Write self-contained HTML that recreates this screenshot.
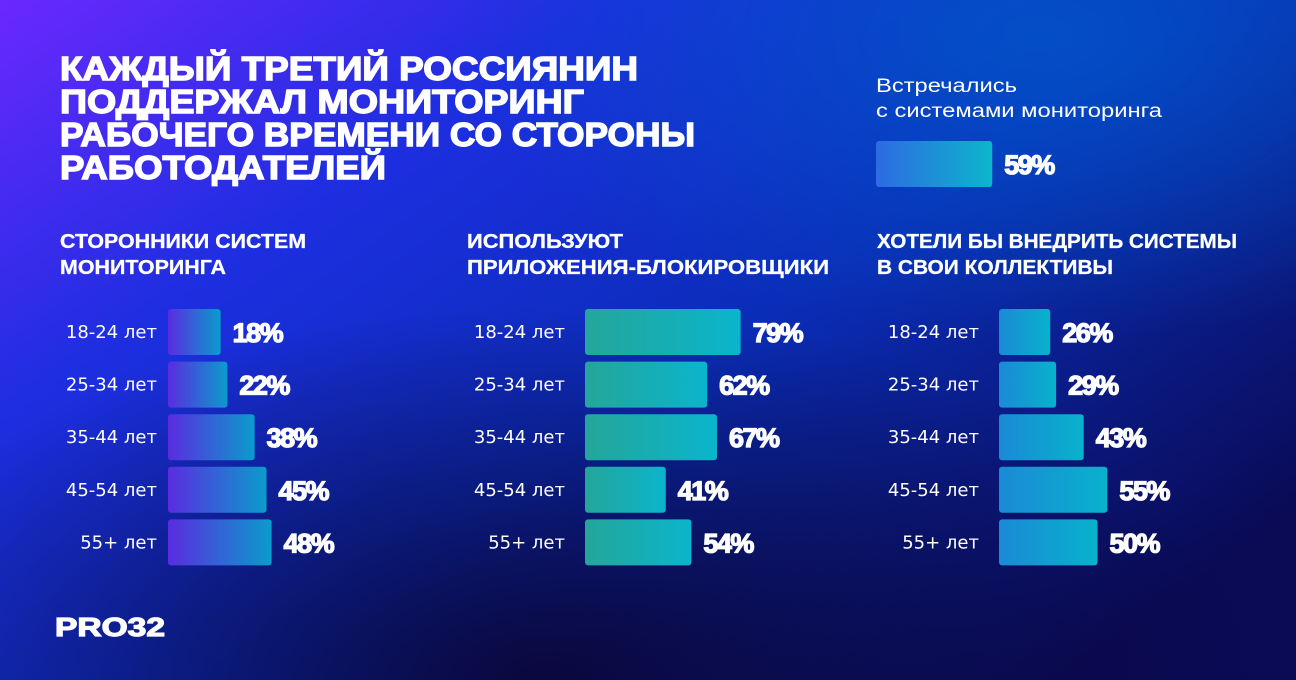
<!DOCTYPE html>
<html><head><meta charset="utf-8"><style>
html,body{margin:0;padding:0;width:1296px;height:680px;overflow:hidden;background:#0a1070}
svg{display:block}
text{font-family:"Liberation Sans","DejaVu Sans",sans-serif;fill:#fff}
.lab{font-family:"DejaVu Sans","Liberation Sans",sans-serif}
</style></head><body>
<svg id="chart" width="1296" height="680" viewBox="0 0 1296 680">
<defs>
<linearGradient id="bgA" x1="0" y1="0" x2="1" y2="0.75">
<stop offset="0" stop-color="#6a28ff"/><stop offset="0.3" stop-color="#1d2ee0"/><stop offset="0.6" stop-color="#0a2db8"/><stop offset="1" stop-color="#0a0a55"/>
</linearGradient>
<radialGradient id="bgB" cx="0.42" cy="1" r="0.55">
<stop offset="0" stop-color="#0a0638" stop-opacity="0.95"/><stop offset="1" stop-color="#0a0638" stop-opacity="0"/>
</radialGradient>
<radialGradient id="bgC" cx="0.8" cy="0.05" r="0.45">
<stop offset="0" stop-color="#0057c8" stop-opacity="0.8"/><stop offset="1" stop-color="#0057c8" stop-opacity="0"/>
</radialGradient>
<linearGradient id="g1" x1="0" x2="1"><stop offset="0" stop-color="#5a2ce0"/><stop offset="1" stop-color="#0a9ccc"/></linearGradient>
<linearGradient id="g2" x1="0" x2="1"><stop offset="0" stop-color="#24a69a"/><stop offset="1" stop-color="#0ab5cc"/></linearGradient>
<linearGradient id="g3" x1="0" x2="1"><stop offset="0" stop-color="#1a8ad6"/><stop offset="1" stop-color="#08b2cc"/></linearGradient>
<linearGradient id="g0" x1="0" x2="1"><stop offset="0" stop-color="#2e6ae2"/><stop offset="1" stop-color="#0cb6cc"/></linearGradient>
</defs>
<rect width="1296" height="680" fill="url(#bgA)"/>
<rect width="1296" height="680" fill="url(#bgC)"/>
<rect width="1296" height="680" fill="url(#bgB)"/>

<g font-weight="bold" font-size="33" stroke="#fff" stroke-width="1.4">
<text x="60" y="80" textLength="578" lengthAdjust="spacingAndGlyphs">КАЖДЫЙ ТРЕТИЙ РОССИЯНИН</text>
<text x="60" y="113" textLength="524" lengthAdjust="spacingAndGlyphs">ПОДДЕРЖАЛ МОНИТОРИНГ</text>
<text x="60" y="146" textLength="635" lengthAdjust="spacingAndGlyphs">РАБОЧЕГО ВРЕМЕНИ СО СТОРОНЫ</text>
<text x="60" y="179" textLength="326" lengthAdjust="spacingAndGlyphs">РАБОТОДАТЕЛЕЙ</text>
</g>

<g>
<text x="876" y="92" font-size="19" textLength="141" lengthAdjust="spacingAndGlyphs">Встречались</text>
<text x="876" y="117" font-size="19" textLength="286" lengthAdjust="spacingAndGlyphs">с системами мониторинга</text>
</g>

<g font-size="20" font-weight="bold" stroke="#fff" stroke-width="0.3">
<text x="60" y="248" textLength="246" lengthAdjust="spacingAndGlyphs">СТОРОННИКИ СИСТЕМ</text>
<text x="60" y="274" textLength="166" lengthAdjust="spacingAndGlyphs">МОНИТОРИНГА</text>
<text x="467" y="248" textLength="156" lengthAdjust="spacingAndGlyphs">ИСПОЛЬЗУЮТ</text>
<text x="467" y="274" textLength="362" lengthAdjust="spacingAndGlyphs">ПРИЛОЖЕНИЯ-БЛОКИРОВЩИКИ</text>
<text x="877" y="248" textLength="360" lengthAdjust="spacingAndGlyphs">ХОТЕЛИ БЫ ВНЕДРИТЬ СИСТЕМЫ</text>
<text x="877" y="274" textLength="236" lengthAdjust="spacingAndGlyphs">В СВОИ КОЛЛЕКТИВЫ</text>
</g>

<text x="55" y="636" font-size="26" font-weight="bold" stroke="#fff" stroke-width="1.2" textLength="110" lengthAdjust="spacingAndGlyphs">PRO32</text>
<g id="bars"></g>
</svg>
<script>
const categories = ['18-24 лет','25-34 лет','35-44 лет','45-54 лет','55+ лет'];
const supporters = [18, 22, 38, 45, 48];
const blockers = [79, 62, 67, 41, 54];
const wantToAdopt = [26, 29, 43, 55, 50];
const overallValue = [59];

const NS = 'http://www.w3.org/2000/svg';
const g = document.getElementById('bars');
function mk(tag, attrs){const e=document.createElementNS(NS,tag);for(const k in attrs)e.setAttribute(k,attrs[k]);return e;}
function yRow(i){return 309 + i*52.6;}
const BAR_H = 46;
function scaleA(v){return 22 + 1.7*v;}
function scaleB(v){return 1.97*v;}
const VAL_ATTRS = {'font-size':27,'font-weight':'bold','letter-spacing':'-1.5',stroke:'#fff','stroke-width':1.3};

function drawChart(values, x0, labelX, grad, scale, key){
  values.forEach((v,i)=>{
    const y = yRow(i);
    const w = scale(v);
    const lab = mk('text',{x:labelX,y:y+BAR_H/2+6,'font-size':18,'text-anchor':'end','class':'lab'});
    lab.textContent = categories[i];
    
    
    g.appendChild(lab);
    const r = mk('rect',{x:x0,y:y,width:w,height:BAR_H,rx:3,fill:'url(#'+grad+')'});
    
    
    g.appendChild(r);
    const t = mk('text',Object.assign({x:x0+w+12,y:y+BAR_H/2+10},VAL_ATTRS));
    t.textContent = v+'%';
    
    
    g.appendChild(t);
  });
}
drawChart(supporters, 168, 157, 'g1', scaleA, 'supporters');
drawChart(blockers, 585, 565, 'g2', scaleB, 'blockers');
drawChart(wantToAdopt, 999, 979, 'g3', scaleB, 'adopt');

const ow = scaleB(overallValue[0]);
const orct = mk('rect',{x:876,y:141,width:ow,height:46,rx:3,fill:'url(#g0)'});


g.appendChild(orct);
const ot = mk('text',Object.assign({x:876+ow+12,y:174},VAL_ATTRS));
ot.textContent = overallValue[0]+'%';


g.appendChild(ot);
</script>
</body></html>
